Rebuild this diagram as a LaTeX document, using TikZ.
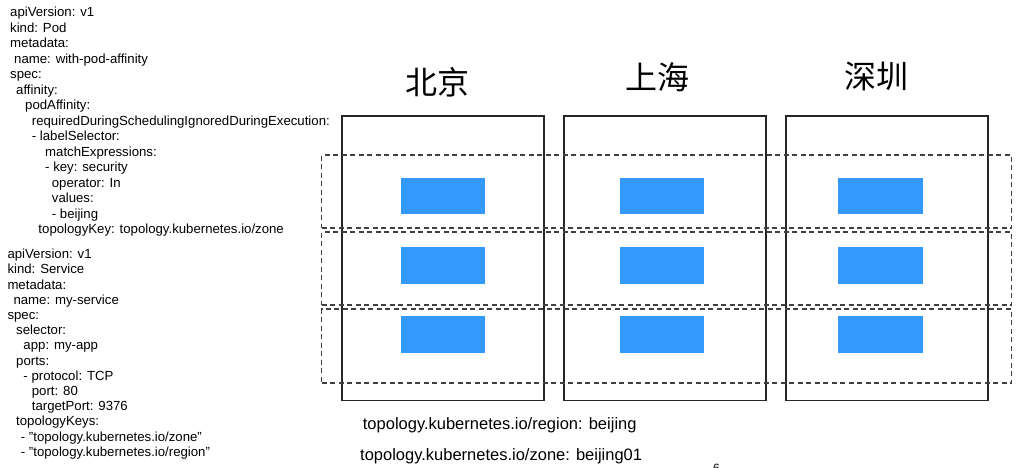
\documentclass[tikz,border=0pt]{standalone}
\usepackage{fontspec}
\setmainfont{Liberation Sans}
\newfontfamily\cjkfont{Noto Sans CJK SC}
\definecolor{podblue}{RGB}{52,153,252}

\begin{document}
\begin{tikzpicture}[x=1pt, y=-1pt,
    zone/.style={draw=black!85, line width=1.3pt, inner sep=0pt, outer sep=0pt, minimum width=202pt, minimum height=284.7pt},
    zonerow/.style={draw=black!75, line width=1.1pt, dash pattern=on 5pt off 3.5pt, inner sep=0pt, outer sep=0pt, minimum width=690pt, minimum height=73pt},
    pod/.style={fill=podblue, inner sep=0pt, outer sep=0pt, minimum width=84.3pt, minimum height=36.6pt},
    city/.style={font=\cjkfont\fontsize{32}{32}\selectfont, inner sep=0pt},
    yaml/.style={anchor=base west, align=left, inner sep=0pt}]
    \fill[white] (0,0) rectangle (1024,467);
    \useasboundingbox (0,0) rectangle (1024,467);

    \node[yaml, font=\fontsize{13.2}{15.48}\selectfont] (podspec) at (10,233.6) {apiVersion: v1\\kind: Pod\\metadata:\\
        \hspace*{4pt}name: with-pod-affinity\\spec:\\
        \hspace*{6pt}affinity:\\
        \hspace*{15pt}podAffinity:\\
        \hspace*{21.7pt}requiredDuringSchedulingIgnoredDuringExecution:\\
        \hspace*{21.7pt}- labelSelector:\\
        \hspace*{35pt}matchExpressions:\\
        \hspace*{35pt}- key: security\\
        \hspace*{41.7pt}operator: In\\
        \hspace*{41.7pt}values:\\
        \hspace*{41.7pt}- beijing\\
        \hspace*{28.3pt}topologyKey: topology.kubernetes.io/zone};
    \node[yaml, font=\fontsize{13.2}{15.2}\selectfont] (svcspec) at (7.3,456.3) {apiVersion: v1\\kind: Service\\metadata:\\
        \hspace*{6pt}name: my-service\\spec:\\
        \hspace*{8.7pt}selector:\\
        \hspace*{16pt}app: my-app\\
        \hspace*{8.7pt}ports:\\
        \hspace*{16pt}- protocol: TCP\\
        \hspace*{24.4pt}port: 80\\
        \hspace*{24.4pt}targetPort: 9376\\
        \hspace*{8.7pt}topologyKeys:\\
        \hspace*{13.4pt}- \symbol{34}topology.kubernetes.io/zone\symbol{34}\\
        \hspace*{13.4pt}- \symbol{34}topology.kubernetes.io/region\symbol{34}};

    \node[city] (bjname) at (437,82.5) {北京};
    \node[city] (shname) at (657,77) {上海};
    \node[city] (szname) at (876,76) {深圳};

    \node[zone] (bjzone) at (443,258.35) {};
    \node[zone] (shzone) at (665,258.35) {};
    \node[zone] (szzone) at (887,258.35) {};

    \node[zonerow] (row1) at (666.7,191.5) {};
    \node[zonerow] (row2) at (666.7,268.5) {};
    \node[zonerow, minimum height=74pt] (row3) at (666.7,346) {};

    \foreach \c/\x in {bj/442.85, sh/662, sz/880.5}
        \foreach \r/\y in {1/195.85, 2/265.35, 3/334.35}
            \node[pod] (\c\r) at (\x,\y) {};

    \node[anchor=base west, inner sep=0pt, font=\fontsize{16.5}{18}\selectfont] (regionlbl) at (362.7,429) {topology.kubernetes.io/region: beijing};
    \node[anchor=base west, inner sep=0pt, font=\fontsize{16.5}{18}\selectfont] (zonelbl) at (360,460) {topology.kubernetes.io/zone: beijing01};
    \node[anchor=north, inner sep=0pt, font=\fontsize{12}{12}\selectfont] (pagenum) at (716.5,463.5) {6};
\end{tikzpicture}
\end{document}
